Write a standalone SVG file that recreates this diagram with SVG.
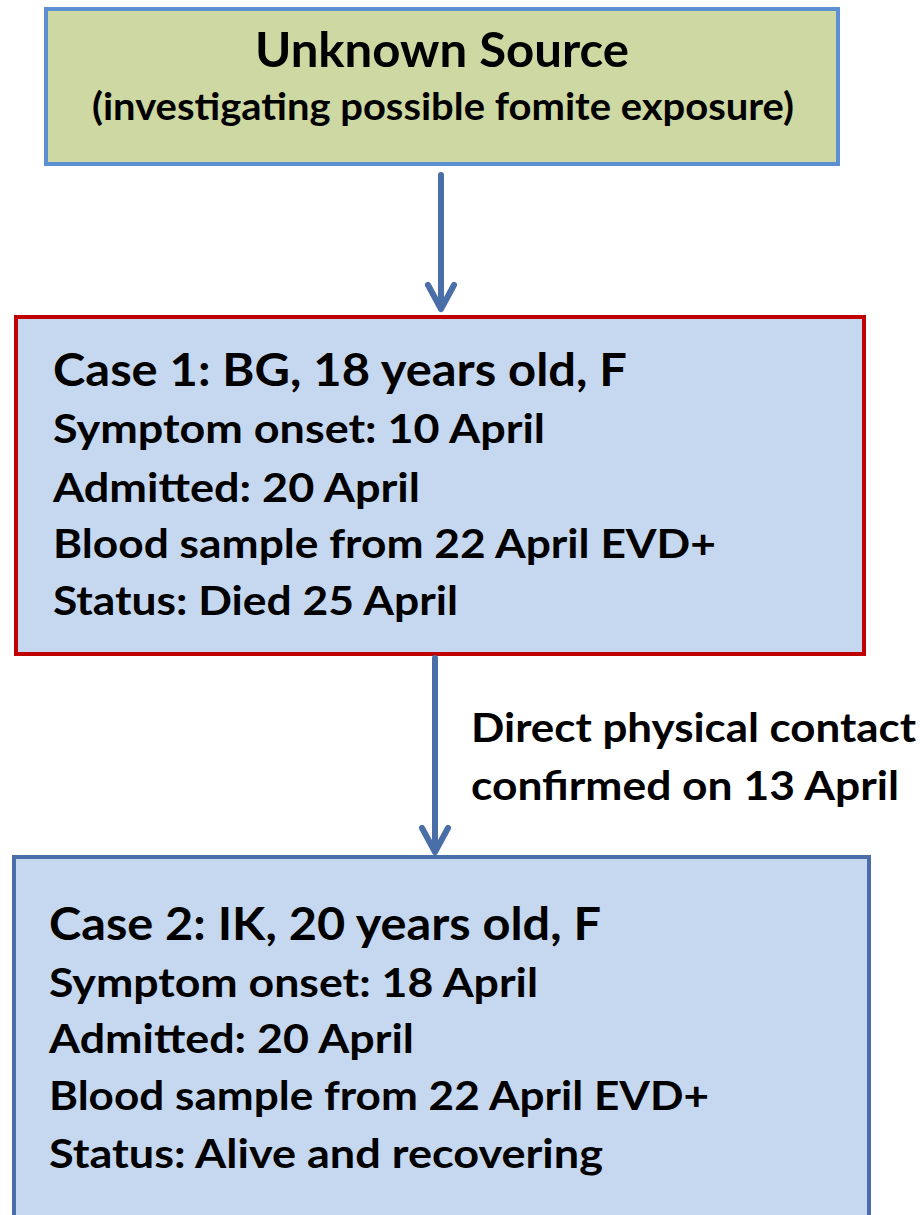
<svg xmlns="http://www.w3.org/2000/svg" width="923" height="1215" viewBox="0 0 923 1215">
<style>
.t{font-family:Lato,"Liberation Sans",sans-serif;font-weight:bold;fill:#000}
.h{font-size:46px}
.l{font-size:41px}
.c{stroke:#4a6ea7;stroke-width:6;fill:none;stroke-linecap:round;stroke-linejoin:round}
</style>
<rect width="923" height="1215" fill="#fff"/>
<g id="source">
<rect x="46" y="9" width="792" height="155" fill="#cdd8a2" stroke="#5d8fd3" stroke-width="4"/>
<text class="t" x="442" y="67" text-anchor="middle" style="font-size:47px" textLength="374" lengthAdjust="spacingAndGlyphs">Unknown Source</text>
<text class="t" x="443" y="120" text-anchor="middle" style="font-size:38px" textLength="702" lengthAdjust="spacingAndGlyphs">(investigating possible fomite exposure)</text>
</g>
<g id="case1">
<rect x="16" y="317" width="848" height="337" fill="#c6d8ef" stroke="#c00000" stroke-width="4"/>
<text class="t h" x="53" y="386" textLength="574" lengthAdjust="spacingAndGlyphs">Case 1: BG, 18 years old, F</text>
<text class="t l" x="53" y="443" textLength="492" lengthAdjust="spacingAndGlyphs">Symptom onset: 10 April</text>
<text class="t l" x="53" y="502" textLength="367" lengthAdjust="spacingAndGlyphs">Admitted: 20 April</text>
<text class="t l" x="53" y="558" textLength="663" lengthAdjust="spacingAndGlyphs">Blood sample from 22 April EVD+</text>
<text class="t l" x="53" y="615" textLength="405" lengthAdjust="spacingAndGlyphs">Status: Died 25 April</text>
</g>
<g id="case2">
<rect x="14" y="857" width="855" height="380" fill="#c6d8ef" stroke="#4a6ea7" stroke-width="4"/>
<text class="t h" x="49" y="940" textLength="552" lengthAdjust="spacingAndGlyphs">Case 2: IK, 20 years old, F</text>
<text class="t l" x="49" y="997" textLength="489" lengthAdjust="spacingAndGlyphs">Symptom onset: 18 April</text>
<text class="t l" x="49" y="1053" textLength="365" lengthAdjust="spacingAndGlyphs">Admitted: 20 April</text>
<text class="t l" x="49" y="1110" textLength="660" lengthAdjust="spacingAndGlyphs">Blood sample from 22 April EVD+</text>
<text class="t l" x="49" y="1168" textLength="554" lengthAdjust="spacingAndGlyphs">Status: Alive and recovering</text>
</g>
<g id="connectors">
<path class="c" d="M441 175 V309 M428 285 L441 309 L454 285"/>
<path class="c" d="M435 658 V852 M422 828 L435 852 L448 828"/>
<text class="t l" x="471" y="742" textLength="445" lengthAdjust="spacingAndGlyphs">Direct physical contact</text>
<text class="t l" x="471" y="800" textLength="428" lengthAdjust="spacingAndGlyphs">confirmed on 13 April</text>
</g>
</svg>
